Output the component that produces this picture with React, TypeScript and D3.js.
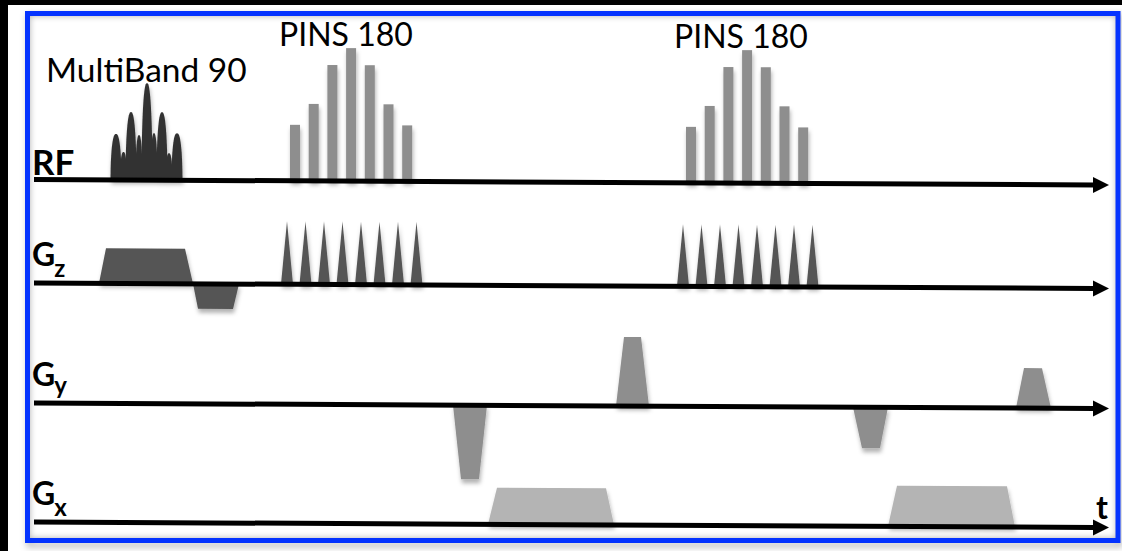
import React from 'react';
import * as d3 from 'd3';

const W = 1122;
const H = 551;
const T_MAX = 1076;

// channels (rows of the sequence diagram)
const channels = ['RF', 'Gz', 'Gy', 'Gx'];
const channelMain = ['RF', 'G', 'G', 'G'];
const channelSub = ['', 'z', 'y', 'x'];

// MultiBand 90 excitation: lobes (time, amplitude, width)
const mbCenters = [82, 89.5, 97, 105, 113, 120, 128, 135, 143];
const mbAmps = [46, 28, 68, 45, 97, 47, 68, 27, 47];
const mbWidths = [11, 7, 11, 7, 11, 7, 11, 7, 11];

// PINS 180 refocusing blocks
const pinsStarts = [261, 657];
const pinsRfAmps = [56, 77, 116, 133, 116, 77, 56];
const pinsRfSpacing = 18.7;
const pinsRfWidth = 10;
const pinsGzOffset = -8;
const pinsGzSpacing = 18.5;
const pinsGzCount = 8;
const pinsGzAmps = [63, 62];
const pinsGzWidth = 12;

// trapezoidal gradients: [rampStart, flatStart, flatEnd, rampEnd]
const gzTimes = [[65, 72, 151, 159], [159, 164, 199, 205]];
const gzAmps = [35, -25];
const gyTimes = [[419, 427, 445, 453], [582, 590, 607, 615], [819, 828, 846, 854], [982, 990, 1008, 1017]];
const gyAmps = [-74, 69, -41, 40];
const gxTimes = [[454, 463, 572, 580], [854, 863, 973, 981]];
const gxAmps = [36.6, 40.7];

const pulseTitles = ['MultiBand 90', 'PINS 180', 'PINS 180'];

export default function App() {
  const x = d3.scaleLinear().domain([0, T_MAX]).range([34, 1110]);
  const baseLeft = d3.scaleOrdinal<string, number>().domain(channels).range([179.5, 283, 403, 522]);
  const tilt = 5.5;
  const amp = d3.scaleLinear().domain([0, 100]).range([0, 100]);
  const y = (ch: string, t: number, a: number) => baseLeft(ch) + (tilt * t) / T_MAX - amp(a);
  const line = d3.line<[number, number]>();

  const trap = (ch: string, ts: number[], a: number) =>
    line([
      [x(ts[0]), y(ch, ts[0], 0)],
      [x(ts[1]), y(ch, ts[1], a)],
      [x(ts[2]), y(ch, ts[2], a)],
      [x(ts[3]), y(ch, ts[3], 0)],
    ]) + 'Z';

  const lobe = (c: number, a: number, w: number) => {
    const pts: [number, number][] = d3.range(0, 41).map((i) => {
      const th = (Math.PI * i) / 40;
      const t = c + (w / 2) * Math.sign(Math.cos(th)) * Math.pow(Math.abs(Math.cos(th)), 0.8);
      return [x(t), y('RF', c, a * Math.sin(th))];
    });
    return line(pts) + 'Z';
  };

  const tri = (ch: string, c: number, a: number, w: number) =>
    line([
      [x(c - w / 2), y(ch, c, 0)],
      [x(c), y(ch, c, a)],
      [x(c + w / 2), y(ch, c, 0)],
    ]) + 'Z';

  const arrowEnd = 1093;
  const arrowTip = 1109;

  return (
    <svg width={W} height={H} style={{ position: 'absolute', left: 0, top: 0 }}>
      <defs>
        <filter id="sh" x="-50%" y="-50%" width="200%" height="200%">
          <feDropShadow dx="1" dy="4" stdDeviation="2" floodColor="#000" floodOpacity="0.3" />
        </filter>
        <filter id="blur" x="-10%" y="-10%" width="120%" height="120%">
          <feGaussianBlur stdDeviation="3" />
        </filter>
        <clipPath id="inner">
          <rect x={30} y={16} width={1086} height={522} />
        </clipPath>
      </defs>
      <rect x={0} y={0} width={W} height={H} fill="#000" />
      <rect x={8} y={5} width={W - 8} height={H - 5} fill="#fff" />
      {/* frame shadow */}
      <rect x={29} y={16} width={1091} height={529} fill="none" stroke="#000" strokeOpacity={0.25} strokeWidth={5} filter="url(#blur)" />
      <rect x={25} y={11} width={1095} height={532} fill="#fff" />
      {/* inner shadow */}
      <g clipPath="url(#inner)">
        <rect x={26} y={12} width={1094} height={530} fill="none" stroke="#000" strokeOpacity={0.3} strokeWidth={8} filter="url(#blur)" />
      </g>

      <g filter="url(#sh)">
        {mbCenters.map((c, i) => (
          <path key={'mb' + i} d={lobe(c, mbAmps[i], mbWidths[i])} fill="#333" />
        ))}
        {pinsStarts.map((s, b) =>
          pinsRfAmps.map((a, i) => {
            const c = s + i * pinsRfSpacing;
            return (
              <rect
                key={'pr' + b + i}
                x={x(c - pinsRfWidth / 2)}
                y={y('RF', c, a)}
                width={x(pinsRfWidth) - x(0)}
                height={amp(a)}
                fill="#8e8e8e"
              />
            );
          })
        )}
        {pinsStarts.map((s, b) =>
          d3.range(pinsGzCount).map((i) => (
            <path
              key={'pg' + b + i}
              d={tri('Gz', s + pinsGzOffset + i * pinsGzSpacing, pinsGzAmps[b], pinsGzWidth)}
              fill="#545454"
            />
          ))
        )}
        {gzTimes.map((ts, i) => (
          <path key={'gz' + i} d={trap('Gz', ts, gzAmps[i])} fill="#545454" />
        ))}
        {gyTimes.map((ts, i) => (
          <path key={'gy' + i} d={trap('Gy', ts, gyAmps[i])} fill="#8e8e8e" />
        ))}
        {gxTimes.map((ts, i) => (
          <path key={'gx' + i} d={trap('Gx', ts, gxAmps[i])} fill="#b4b4b4" />
        ))}
      </g>

      {/* time axes with arrows */}
      {channels.map((ch) => {
        const y0 = baseLeft(ch);
        const tEnd = x.invert(arrowEnd);
        const y1 = y(ch, tEnd, 0);
        const yTip = y(ch, x.invert(arrowTip), 0);
        return (
          <g key={'ax' + ch}>
            <line x1={x(0)} y1={y0} x2={arrowEnd + 1} y2={y1} stroke="#000" strokeWidth={5} />
            <path d={line([[arrowEnd, y1 - 8], [arrowTip, yTip], [arrowEnd, y1 + 8]]) + 'Z'} fill="#000" />
          </g>
        );
      })}

      {/* channel labels */}
      {channels.map((ch, i) => {
        const by = baseLeft(ch);
        const isRF = channelSub[i] === '';
        return (
          <text
            key={'lb' + ch}
            x={32}
            y={isRF ? by - 5 : by - 17}
            fontFamily="Lato, 'Open Sans', sans-serif"
            fontWeight={700}
            fontSize={isRF ? 35 : 32}
            fill="#000"
          >
            {channelMain[i]}
            {channelSub[i] && (
              <tspan fontSize={24} dx={-1} dy={ch === 'Gy' ? 8 : 11}>
                {channelSub[i]}
              </tspan>
            )}
          </text>
        );
      })}
      <text x={1096} y={519} fontFamily="Lato, sans-serif" fontWeight={700} fontSize={32} fill="#000">
        t
      </text>

      {/* pulse titles */}
      <text x={46} y={82} fontFamily="Lato, sans-serif" fontSize={33.5} fill="#000">
        {pulseTitles[0]}
      </text>
      <text x={279} y={46} fontFamily="Lato, sans-serif" fontSize={32} fill="#000">
        {pulseTitles[1]}
      </text>
      <text x={674} y={48} fontFamily="Lato, sans-serif" fontSize={32} fill="#000">
        {pulseTitles[2]}
      </text>

      {/* blue frame */}
      <rect x={27.5} y={13.5} width={1090.5} height={527} fill="none" stroke="#0433ff" strokeWidth={5} />
    </svg>
  );
}
